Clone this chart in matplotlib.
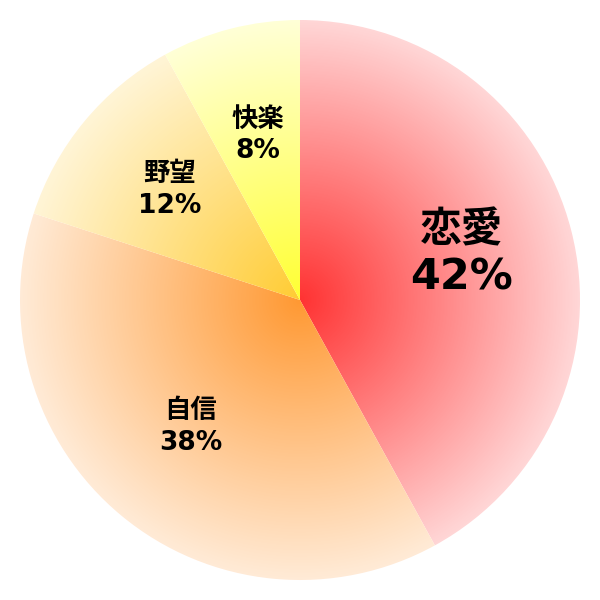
import numpy as np
import matplotlib
matplotlib.use("Agg")
import matplotlib.pyplot as plt
from matplotlib.colors import LinearSegmentedColormap, to_rgb

plt.rcParams['font.family'] = ['DejaVu Sans', 'Noto Sans CJK JP']

labels = ['恋愛', '自信', '野望', '快楽']
values = [42, 38, 12, 8]
colors = ['#ff3333', '#ff9933', '#ffcc33', '#ffff33']
# label centres in pixel coords of the 600x600 picture
label_xy = [(462, 230, 278), (191, 411, 443), (170, 174, 206), (258, 120, 151)]
label_size = [(30, 31), (19, 19), (19, 19), (19, 19)]

R = 280
fig = plt.figure(figsize=(6, 6), dpi=100)
ax = fig.add_axes([0, 0, 1, 1])

wedges, _ = ax.pie(values, radius=R, startangle=90, counterclock=False,
                   colors=colors, wedgeprops=dict(linewidth=0))

# radial distance map for the gradients
n = 600
g = np.linspace(-300, 300, n)
xx, yy = np.meshgrid(g, g)
rr = np.clip(np.hypot(xx, yy) / R, 0, 1)

for w, c in zip(wedges, colors):
    rgb = np.array(to_rgb(c))
    edge = 0.2 * rgb + 0.8
    cmap = LinearSegmentedColormap.from_list('g', [rgb, edge])
    w.set_facecolor('none')
    im = ax.imshow(rr, cmap=cmap, vmin=0, vmax=1, extent=(-300, 300, -300, 300),
                   origin='lower', interpolation='bilinear', zorder=1)
    im.set_clip_path(w)

for lab, v, (x, y1, y2), (s1, s2) in zip(labels, values, label_xy, label_size):
    ax.text(x - 300, 300 - y1, lab, fontsize=s1, fontweight='bold',
            ha='center', va='center', zorder=3)
    ax.text(x - 300, 300 - y2, f'{v}%', fontsize=s2, fontweight='bold',
            ha='center', va='center', zorder=3)

ax.set_xlim(-300, 300)
ax.set_ylim(-300, 300)
ax.set_aspect('equal')
ax.axis('off')

fig.savefig('out.png', dpi=100, facecolor='white')
